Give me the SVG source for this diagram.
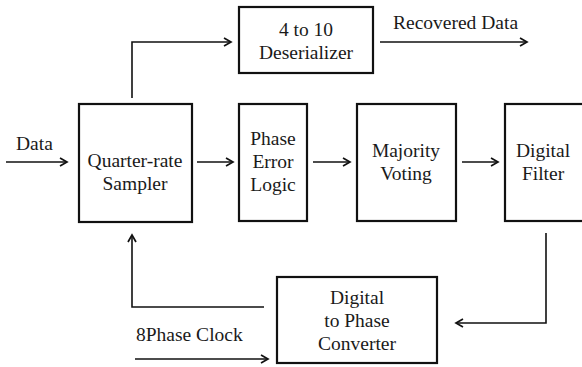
<svg xmlns="http://www.w3.org/2000/svg" width="582" height="367" viewBox="0 0 582 367">
  <style>
    .box { fill: #ffffff; stroke: #111111; stroke-width: 2.2; }
    .wire { fill: none; stroke: #111111; stroke-width: 1.6; marker-end: url(#arrow); }
    text { font-family: "Liberation Serif", "Times New Roman", serif; font-size: 19.5px; fill: #1a1a1a; }
    .c { text-anchor: middle; }
  </style>
  <defs>
    <marker id="arrow" markerUnits="userSpaceOnUse" markerWidth="12" markerHeight="12" refX="8" refY="5" orient="auto">
      <path d="M1,1 L8,5 L1,9" fill="none" stroke="#111111" stroke-width="1.7"/>
    </marker>
  </defs>
  <rect width="582" height="367" fill="#ffffff"/>

  <g id="connectors">
    <path class="wire" d="M6,162 H67"/>
    <path class="wire" d="M197,162 H233"/>
    <path class="wire" d="M313,162 H350"/>
    <path class="wire" d="M462,162 H498"/>
    <path class="wire" d="M132,98 V42 H231"/>
    <path class="wire" d="M380,42 H527"/>
    <path class="wire" d="M546,233 V323 H456"/>
    <path class="wire" d="M264,307 H132 V235"/>
    <path class="wire" d="M135,359 H268"/>
  </g>

  <g id="labels">
    <text x="16" y="150">Data</text>
    <text x="393" y="29">Recovered Data</text>
    <text x="136" y="341">8Phase Clock</text>
  </g>

  <g id="deserializer">
    <rect class="box" x="239" y="7" width="134" height="66"/>
    <text class="c" x="306" y="36">4 to 10</text>
    <text class="c" x="306" y="59">Deserializer</text>
  </g>

  <g id="sampler">
    <rect class="box" x="79" y="104" width="113" height="118"/>
    <text class="c" x="135" y="167">Quarter-rate</text>
    <text class="c" x="135" y="190">Sampler</text>
  </g>

  <g id="phase-error-logic">
    <rect class="box" x="239" y="104" width="68" height="117"/>
    <text class="c" x="273" y="145">Phase</text>
    <text class="c" x="273" y="168">Error</text>
    <text class="c" x="273" y="191">Logic</text>
  </g>

  <g id="majority-voting">
    <rect class="box" x="357" y="104" width="99" height="117"/>
    <text class="c" x="406" y="157">Majority</text>
    <text class="c" x="406" y="180">Voting</text>
  </g>

  <g id="digital-filter">
    <rect class="box" x="505" y="104" width="84" height="117"/>
    <text class="c" x="543" y="157">Digital</text>
    <text class="c" x="543" y="180">Filter</text>
  </g>

  <g id="digital-to-phase">
    <rect class="box" x="277" y="277" width="160" height="86"/>
    <text class="c" x="357" y="304">Digital</text>
    <text class="c" x="357" y="327">to Phase</text>
    <text class="c" x="357" y="350">Converter</text>
  </g>
</svg>
